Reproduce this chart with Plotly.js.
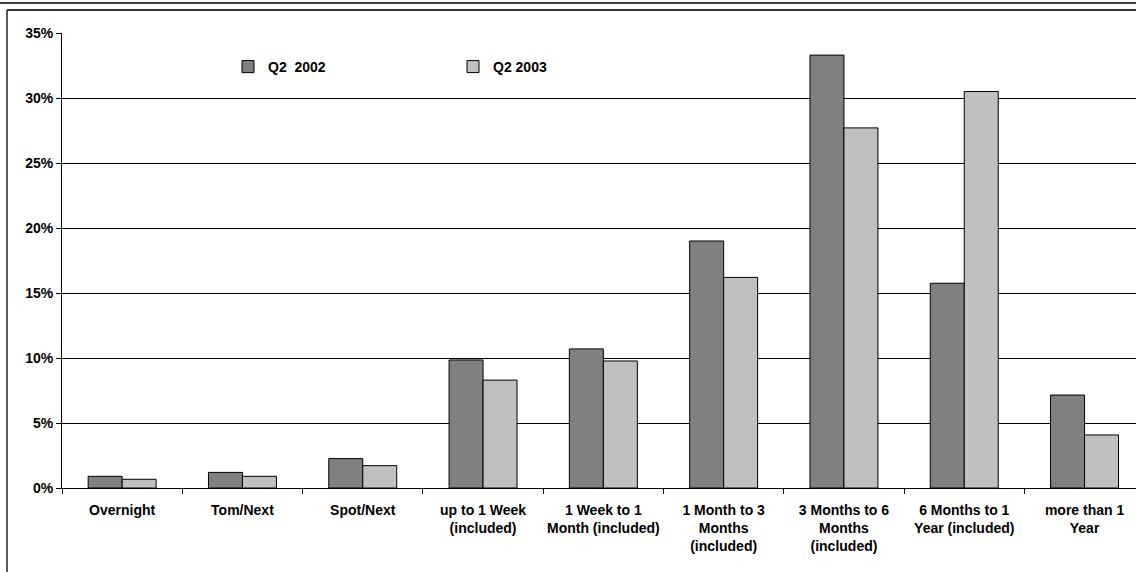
<!DOCTYPE html>
<html>
<head>
<meta charset="utf-8">
<script src="https://cdn.plot.ly/plotly-3.0.1.min.js"></script>
<style>
html,body{margin:0;padding:0;background:#fff;}
#chart{width:1136px;height:572px;}
</style>
</head>
<body>
<div id="chart"></div>
<script>
var categories = [
  "Overnight",
  "Tom/Next",
  "Spot/Next",
  "up to 1 Week<br>(included)",
  "1 Week to 1<br>Month (included)",
  "1 Month to 3<br>Months<br>(included)",
  "3 Months to 6<br>Months<br>(included)",
  "6 Months to 1<br>Year (included)",
  "more than 1<br>Year"
];
var q2_2002 = [0.009, 0.012, 0.0226, 0.0985, 0.107, 0.190, 0.333, 0.1575, 0.0715];
var q2_2003 = [0.0067, 0.009, 0.0172, 0.083, 0.0977, 0.162, 0.277, 0.305, 0.0408];
var yTickVals = [0, 0.05, 0.10, 0.15, 0.20, 0.25, 0.30, 0.35];
var seriesNames = ["Q2\u00a0\u00a02002", "Q2 2003"];

var fontFam = "Arial, 'Liberation Sans', sans-serif";

var traces = [
  {type: "bar", name: seriesNames[0], x: categories, y: q2_2002,
   marker: {color: "#808080", line: {color: "#000000", width: 1}}, hoverinfo: "y"},
  {type: "bar", name: seriesNames[1], x: categories, y: q2_2003,
   marker: {color: "#c0c0c0", line: {color: "#000000", width: 1}}, hoverinfo: "y"}
];

var L = 62, R = 0, T = 33, B = 84;
var W = 1136 - L - R, H = 572 - T - B;
function px2x(px){ return (px - L) / W; }
function py2y(py){ return (572 - B - py) / H; }

var layout = {
  width: 1136, height: 572,
  margin: {l: L, r: R, t: T, b: B, pad: 0, autoexpand: false},
  paper_bgcolor: "#ffffff", plot_bgcolor: "#ffffff",
  barmode: "group", bargap: 0.435, bargroupgap: 0,
  font: {family: fontFam, size: 14, color: "#000", weight: 700},
  showlegend: true,
  legend: {orientation: "h", x: px2x(228), xanchor: "left", y: py2y(67), yanchor: "middle",
           bgcolor: "rgba(0,0,0,0)", font: {family: fontFam, size: 14, weight: 700, color: "#000"},
           entrywidth: 180, entrywidthmode: "pixels", itemwidth: 30, traceorder: "normal"},
  xaxis: {type: "category", range: [-0.5, 8.5 - (L + 9 * 120.3 - 1136) / 120.3],
          showgrid: false, showline: true, linecolor: "#000", linewidth: 1,
          ticks: "outside", ticklen: 5, tickcolor: "#000", tickson: "boundaries",
          ticklabelstandoff: 9,
          tickfont: {family: fontFam, size: 14, weight: 700, color: "#000"},
          tickangle: 0, fixedrange: true, zeroline: false},
  yaxis: {range: [0, 0.35], tickvals: yTickVals, tickformat: ".0%",
          showgrid: true, gridcolor: "#000", gridwidth: 1,
          showline: true, linecolor: "#000", linewidth: 1,
          ticks: "outside", ticklen: 5, tickcolor: "#000",
          tickfont: {family: fontFam, size: 14, weight: 700, color: "#000"},
          zeroline: false, fixedrange: true},
  shapes: [
    {type: "line", xref: "paper", yref: "paper", x0: px2x(0), x1: px2x(1136), y0: py2y(3), y1: py2y(3),
     line: {color: "#000", width: 1.5}},
    {type: "line", xref: "paper", yref: "paper", x0: px2x(7), x1: px2x(1136), y0: py2y(10), y1: py2y(10),
     line: {color: "#333", width: 2}},
    {type: "line", xref: "paper", yref: "paper", x0: px2x(7), x1: px2x(7), y0: py2y(10), y1: py2y(580),
     line: {color: "#222", width: 1.5}}
  ]
};

Plotly.newPlot("chart", traces, layout, {displayModeBar: false, staticPlot: true});
</script>
</body>
</html>
